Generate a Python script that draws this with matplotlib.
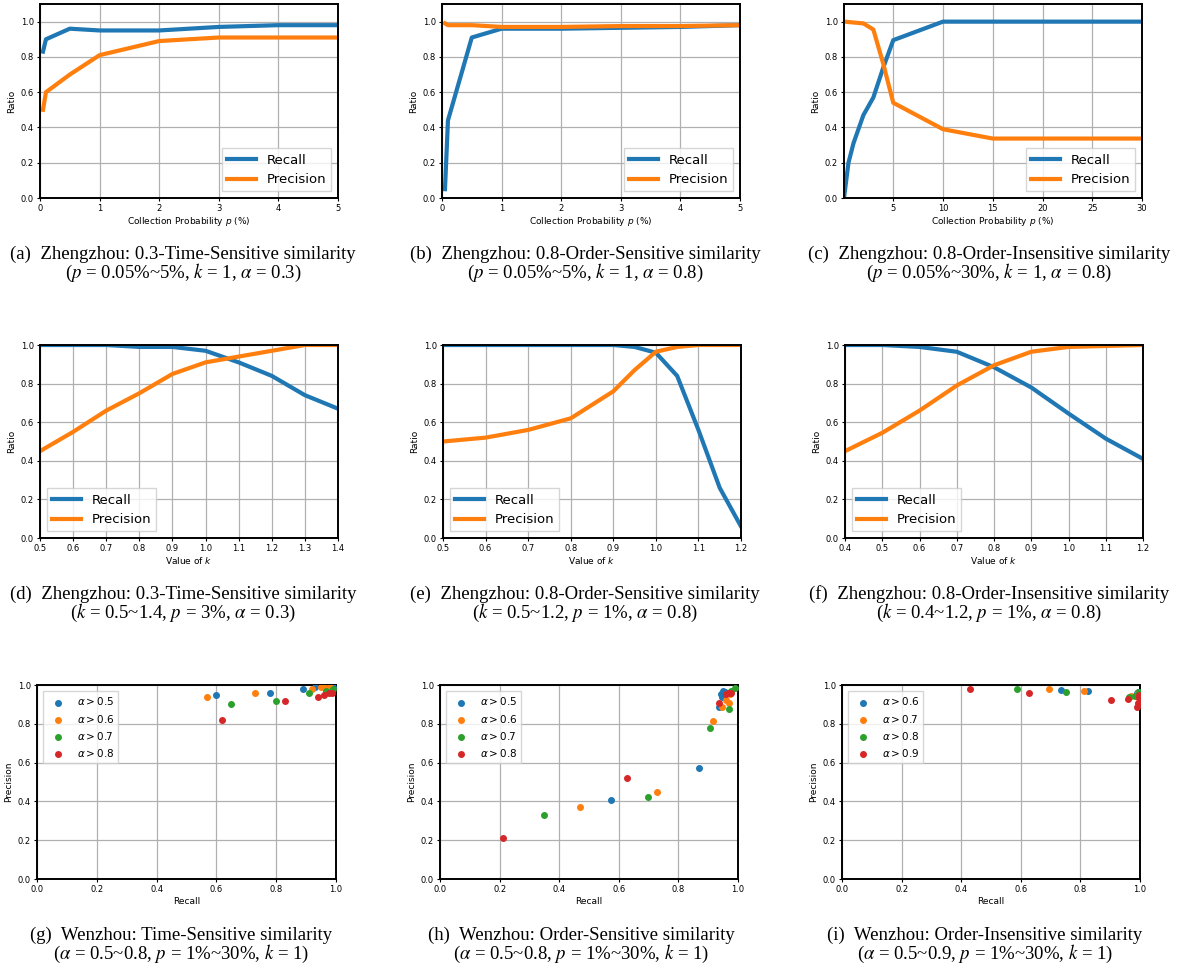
import matplotlib
matplotlib.use("Agg")
import matplotlib.pyplot as plt

# ----------------------------
# DATA
# ----------------------------
# (a) Zhengzhou 0.3-Time-Sensitive, vary p
p_a = [0.05, 0.1, 0.5, 1, 2, 3, 4, 5]
recall_a = [0.83, 0.90, 0.96, 0.95, 0.95, 0.97, 0.98, 0.98]
precision_a = [0.50, 0.60, 0.70, 0.81, 0.89, 0.91, 0.91, 0.91]

# (b) Zhengzhou 0.8-Order-Sensitive, vary p
p_b = [0.05, 0.1, 0.5, 1, 2, 3, 4, 5]
recall_b = [0.05, 0.44, 0.91, 0.96, 0.96, 0.965, 0.97, 0.98]
precision_b = [0.99, 0.98, 0.98, 0.97, 0.97, 0.975, 0.975, 0.98]

# (c) Zhengzhou 0.8-Order-Insensitive, vary p
p_c = [0.05, 0.5, 1, 2, 3, 4, 5, 10, 15, 20, 25, 30]
recall_c = [0.0, 0.20, 0.31, 0.47, 0.57, 0.74, 0.895, 1.0, 1.0, 1.0, 1.0, 1.0]
precision_c = [1.0, 0.998, 0.995, 0.99, 0.955, 0.76, 0.54, 0.39, 0.337, 0.337, 0.337, 0.337]

# (d) Zhengzhou 0.3-Time-Sensitive, vary k
k_d = [0.5, 0.6, 0.7, 0.8, 0.9, 1.0, 1.1, 1.2, 1.3, 1.4]
recall_d = [1.0, 1.0, 1.0, 0.99, 0.99, 0.97, 0.91, 0.84, 0.74, 0.67]
precision_d = [0.45, 0.55, 0.66, 0.75, 0.85, 0.91, 0.94, 0.97, 1.0, 1.0]

# (e) Zhengzhou 0.8-Order-Sensitive, vary k
k_e = [0.5, 0.6, 0.7, 0.8, 0.9, 0.95, 1.0, 1.05, 1.1, 1.15, 1.2]
recall_e = [1.0, 1.0, 1.0, 1.0, 1.0, 0.99, 0.96, 0.84, 0.56, 0.26, 0.06]
precision_e = [0.50, 0.52, 0.56, 0.62, 0.76, 0.87, 0.965, 0.99, 1.0, 1.0, 1.0]

# (f) Zhengzhou 0.8-Order-Insensitive, vary k
k_f = [0.4, 0.5, 0.6, 0.7, 0.8, 0.9, 1.0, 1.1, 1.2]
recall_f = [1.0, 1.0, 0.99, 0.965, 0.885, 0.78, 0.645, 0.515, 0.41]
precision_f = [0.45, 0.545, 0.66, 0.79, 0.895, 0.965, 0.99, 0.995, 1.0]

# (g) Wenzhou Time-Sensitive, recall/precision per alpha
alpha_g = ["0.5", "0.6", "0.7", "0.8"]
rec_g = [
    [0.60, 0.78, 0.89, 0.93, 0.97, 0.99],
    [0.57, 0.73, 0.92, 0.95, 0.96, 0.98],
    [0.65, 0.80, 0.91, 0.965, 0.99],
    [0.62, 0.83, 0.94, 0.96, 0.975, 0.985],
]
prec_g = [
    [0.95, 0.96, 0.98, 0.99, 0.99, 0.99],
    [0.94, 0.96, 0.98, 0.99, 0.99, 0.99],
    [0.90, 0.92, 0.96, 0.97, 0.98],
    [0.82, 0.92, 0.94, 0.95, 0.96, 0.96],
]

# (h) Wenzhou Order-Sensitive
alpha_h = ["0.5", "0.6", "0.7", "0.8"]
rec_h = [
    [0.574, 0.868, 0.936, 0.947, 0.944, 0.95, 0.955],
    [0.471, 0.727, 0.917, 0.947, 0.959, 0.969, 0.972],
    [0.35, 0.698, 0.907, 0.969, 0.978, 0.989],
    [0.21, 0.628, 0.936, 0.959, 0.966, 0.978],
]
prec_h = [
    [0.407, 0.57, 0.885, 0.936, 0.954, 0.967, 0.962],
    [0.373, 0.45, 0.816, 0.885, 0.923, 0.906, 0.954],
    [0.328, 0.421, 0.78, 0.876, 0.97, 0.983],
    [0.21, 0.522, 0.909, 0.954, 0.96, 0.96],
]

# (i) Wenzhou Order-Insensitive
alpha_i = ["0.6", "0.7", "0.8", "0.9"]
rec_i = [
    [0.735, 0.826, 0.989, 0.994],
    [0.693, 0.812, 0.969, 0.994],
    [0.587, 0.751, 0.964, 0.983, 0.997],
    [0.431, 0.626, 0.903, 0.959, 0.989, 0.994, 0.997, 0.997],
]
prec_i = [
    [0.974, 0.971, 0.957, 0.966],
    [0.981, 0.971, 0.945, 0.957],
    [0.978, 0.962, 0.94, 0.945, 0.966],
    [0.978, 0.957, 0.923, 0.926, 0.888, 0.905, 0.931, 0.948],
]

captions = [
    ("(a)  Zhengzhou: 0.3-Time-Sensitive similarity", r"($p$ = 0.05%~5%, $k$ = 1, $\alpha$ = 0.3)"),
    ("(b)  Zhengzhou: 0.8-Order-Sensitive similarity", r"($p$ = 0.05%~5%, $k$ = 1, $\alpha$ = 0.8)"),
    ("(c)  Zhengzhou: 0.8-Order-Insensitive similarity", r"($p$ = 0.05%~30%, $k$ = 1, $\alpha$ = 0.8)"),
    ("(d)  Zhengzhou: 0.3-Time-Sensitive similarity", r"($k$ = 0.5~1.4, $p$ = 3%, $\alpha$ = 0.3)"),
    ("(e)  Zhengzhou: 0.8-Order-Sensitive similarity", r"($k$ = 0.5~1.2, $p$ = 1%, $\alpha$ = 0.8)"),
    ("(f)  Zhengzhou: 0.8-Order-Insensitive similarity", r"($k$ = 0.4~1.2, $p$ = 1%, $\alpha$ = 0.8)"),
    ("(g)  Wenzhou: Time-Sensitive similarity", r"($\alpha$ = 0.5~0.8, $p$ = 1%~30%, $k$ = 1)"),
    ("(h)  Wenzhou: Order-Sensitive similarity", r"($\alpha$ = 0.5~0.8, $p$ = 1%~30%, $k$ = 1)"),
    ("(i)  Wenzhou: Order-Insensitive similarity", r"($\alpha$ = 0.5~0.9, $p$ = 1%~30%, $k$ = 1)"),
]

# ----------------------------
# LAYOUT (pixel boxes: left, top, right, bottom)
# ----------------------------
W, H = 1179, 971
boxes = [
    (40, 4, 338, 198), (442, 4, 740, 198), (844, 4, 1142, 198),
    (40, 345, 338, 538), (443, 345, 741, 538), (845, 345, 1143, 538),
    (37, 685, 336, 879), (440, 685, 738, 879), (842, 685, 1140, 879),
]
cap_x = [183, 585, 989, 183, 585, 989, 181, 581, 985]
cap_y = [(254, 273), (594, 613), (935, 954)]

BLUE, ORANGE, GREEN, RED = "#1f77b4", "#ff7f0e", "#2ca02c", "#d62728"
plt.rcParams["mathtext.fontset"] = "dejavusans"

fig = plt.figure(figsize=(W / 100, H / 100), dpi=100)
axes = []
for (l, t, r, b) in boxes:
    ax = fig.add_axes([l / W, (H - b) / H, (r - l) / W, (b - t) / H])
    ax.grid(True, color="#b0b0b0", lw=0.9)
    ax.set_axisbelow(True)
    for s in ax.spines.values():
        s.set_linewidth(1.4)
    ax.tick_params(labelsize=6, length=2.5, width=0.8, pad=2)
    axes.append(ax)


def line_panel(ax, x, rec, prec, xlabel, loc):
    ax.plot(x, rec, color=BLUE, lw=3, label="Recall")
    ax.plot(x, prec, color=ORANGE, lw=3, label="Precision")
    ax.set_xlabel(xlabel, fontsize=6.5, labelpad=1.5)
    ax.set_ylabel("Ratio", fontsize=6.5, labelpad=3)
    ax.legend(loc=loc, fontsize=9.5, handlelength=2.2, fancybox=False,
              framealpha=0.8, edgecolor="#cccccc")


xl_p = r"Collection Probability $p$ (%)"
xl_k = r"Value of $k$"

line_panel(axes[0], p_a, recall_a, precision_a, xl_p, "lower right")
axes[0].set_xlim(0, 5)
line_panel(axes[1], p_b, recall_b, precision_b, xl_p, "lower right")
axes[1].set_xlim(0, 5)
line_panel(axes[2], p_c, recall_c, precision_c, xl_p, "lower right")
axes[2].set_xlim(0.05, 30)
axes[2].set_xticks([5, 10, 15, 20, 25, 30])
for ax in axes[:3]:
    ax.set_ylim(0, 1.1)
    ax.set_yticks([0.0, 0.2, 0.4, 0.6, 0.8, 1.0])

line_panel(axes[3], k_d, recall_d, precision_d, xl_k, "lower left")
axes[3].set_xlim(0.5, 1.4)
axes[3].set_xticks(k_d)
line_panel(axes[4], k_e, recall_e, precision_e, xl_k, "lower left")
axes[4].set_xlim(0.5, 1.2)
axes[4].set_xticks([0.5, 0.6, 0.7, 0.8, 0.9, 1.0, 1.1, 1.2])
line_panel(axes[5], k_f, recall_f, precision_f, xl_k, "lower left")
axes[5].set_xlim(0.4, 1.2)
axes[5].set_xticks(k_f)
for ax in axes[3:6]:
    ax.set_ylim(0, 1.0)
    ax.set_yticks([0.0, 0.2, 0.4, 0.6, 0.8, 1.0])

colors = [BLUE, ORANGE, GREEN, RED]
for ax, alphas, recs, precs in [(axes[6], alpha_g, rec_g, prec_g),
                                (axes[7], alpha_h, rec_h, prec_h),
                                (axes[8], alpha_i, rec_i, prec_i)]:
    for a, r, p, c in zip(alphas, recs, precs, colors):
        ax.scatter(r, p, s=16, color=c, label=r"$\alpha > %s$" % a, zorder=3)
    ax.set_xlim(0, 1)
    ax.set_ylim(0, 1)
    ax.set_xticks([0.0, 0.2, 0.4, 0.6, 0.8, 1.0])
    ax.set_yticks([0.0, 0.2, 0.4, 0.6, 0.8, 1.0])
    ax.set_xlabel("Recall", fontsize=6.5, labelpad=2)
    ax.set_ylabel("Precision", fontsize=6.5, labelpad=3)
    ax.legend(loc="upper left", fontsize=7.5, scatterpoints=1, fancybox=False,
              framealpha=0.8, edgecolor="#cccccc", borderaxespad=0.6)

# ----------------------------
# CAPTIONS
# ----------------------------
for i, (l1, l2) in enumerate(captions):
    y1, y2 = cap_y[i // 3]
    with plt.rc_context({"mathtext.fontset": "stix"}):
        fig.text(cap_x[i] / W, 1 - y1 / H, l1, ha="center", va="center",
                 fontsize=13.5, fontfamily="Liberation Serif")
        fig.text(cap_x[i] / W, 1 - y2 / H, l2, ha="center", va="center",
                 fontsize=13.5, fontfamily="Liberation Serif")

fig.savefig("out.png", dpi=100)
